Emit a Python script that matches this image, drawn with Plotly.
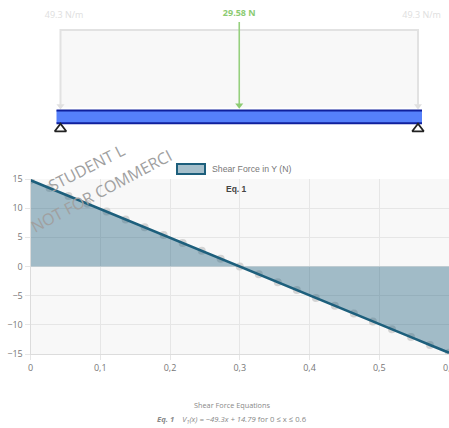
import plotly.graph_objects as go

# ---- data ----
shear_x = [0, 0.0273, 0.0545, 0.0818, 0.1091, 0.1364, 0.1636, 0.1909, 0.2182, 0.2455, 0.2727, 0.3,
           0.3273, 0.3545, 0.3818, 0.4091, 0.4364, 0.4636, 0.4909, 0.5182, 0.5455, 0.5727, 0.6]
shear_y = [14.79, 13.45, 12.10, 10.76, 9.41, 8.07, 6.72, 5.38, 4.03, 2.69, 1.34, 0,
           -1.34, -2.69, -4.03, -5.38, -6.72, -8.07, -9.41, -10.76, -12.10, -13.45, -14.79]
y_ticks = [-15, -10, -5, 0, 5, 10, 15]
x_ticks = [0, 0.1, 0.2, 0.3, 0.4, 0.5]
x_tick_labels = ["0", "0,1", "0,2", "0,3", "0,4", "0,5"]
last_x_tick = 0.6
last_x_label = "0,6"
series_name = "Shear Force in Y (N)"

span_x = [0, 0.6]
beam_x = [-0.0067, 0.6067]
load_x = [0, 0, 0.6, 0.6]
load_y = [0.03, 1, 1, 0.03]
point_load_x = [0.3]
point_load_y = [1.1, 0.04]
point_load_label = "29.58 N"
dist_load_label = "49.3 N/m"
dist_label_x = [0.006, 0.606]

LINE = "#1d5f7c"
W, H = 449, 428

def py(p):  # pixel from top -> paper fraction
    return 1 - p / H

fig = go.Figure()

# ---- shear chart ----
fig.add_trace(go.Scatter(x=shear_x, y=shear_y, mode="markers", showlegend=False, hoverinfo="skip",
                         marker=dict(size=8, color="rgba(200,200,200,0.75)")))
fig.add_trace(go.Scatter(x=shear_x, y=shear_y, mode="lines", fill="tozeroy", name=series_name,
                         fillcolor="rgba(29,95,124,0.40)", line=dict(color=LINE, width=2.6),
                         showlegend=False, hoverinfo="x+y"))

# ---- beam diagram on its own axes ----
def t2(**kw):
    fig.add_trace(go.Scatter(xaxis="x2", yaxis="y2", showlegend=False, hoverinfo="skip", **kw))

t2(x=load_x, y=load_y, mode="lines", fill="toself", fillcolor="#f8f8f8",
   line=dict(color="#e2e2e2", width=2))
for xv in span_x:
    t2(x=[xv], y=[0.05], mode="markers",
       marker=dict(symbol="triangle-down", size=7, color="#e0e0e0"))
t2(x=point_load_x * 2, y=point_load_y, mode="lines", line=dict(color="#96d07e", width=1.6))
t2(x=point_load_x, y=[0.06], mode="markers",
   marker=dict(symbol="triangle-down", size=7, color="#8ccb72"))
t2(x=beam_x, y=[-0.085, -0.085], mode="lines", line=dict(color="#5580fb", width=13))
t2(x=beam_x, y=[-0.005, -0.005], mode="lines", line=dict(color="#0f1f9c", width=2))
t2(x=beam_x, y=[-0.165, -0.165], mode="lines", line=dict(color="#0f1f9c", width=2))
t2(x=span_x, y=[-0.235, -0.235], mode="markers",
   marker=dict(symbol="triangle-up", size=10, color="white", line=dict(color="#222", width=1.8)))
t2(x=point_load_x, y=[1.2], mode="text", text=["<b>" + point_load_label + "</b>"],
   textfont=dict(family="Open Sans", size=9, color="#8ccb72"))
t2(x=dist_label_x, y=[1.175, 1.175], mode="text", text=[dist_load_label] * 2,
   textfont=dict(family="Open Sans", size=9, color="#dedede"), cliponaxis=False)

ann = [
    dict(text="STUDENT L", x=86, y=168, textangle=-27),
    dict(text="NOT FOR COMMERCI", x=101, y=191, textangle=-28),
]
annotations = [dict(xref="paper", yref="paper", x=a["x"] / W, y=py(a["y"]), text=a["text"],
                    textangle=a["textangle"], showarrow=False, xanchor="center", yanchor="middle",
                    font=dict(family="Open Sans", size=16, color="#a0a0a0")) for a in ann]
annotations += [
    dict(xref="paper", yref="paper", x=210 / W, y=py(169), text=series_name, showarrow=False,
         xanchor="left", yanchor="middle", font=dict(family="Liberation Sans", size=8.7, color="#777")),
    dict(xref="paper", yref="paper", x=237 / W, y=py(189), text="<b>Eq. 1</b>", showarrow=False,
         xanchor="center", yanchor="middle", font=dict(family="Liberation Sans", size=8.5, color="#444")),
    dict(xref="paper", yref="paper", x=232 / W, y=py(405), text="Shear Force Equations", showarrow=False,
         xanchor="center", yanchor="middle", font=dict(family="Open Sans", size=7.3, color="#888")),
    dict(xref="paper", yref="paper", x=232 / W, y=py(420),
         text="<b><i>Eq. 1</i></b>    <i>V<sub>1</sub>(x) = −49.3x + 14.79</i> for 0 ≤ x ≤ 0.6",
         showarrow=False, xanchor="center", yanchor="middle",
         font=dict(family="Open Sans", size=7.7, color="#888")),
    dict(xref="x", yref="paper", x=last_x_tick, y=py(367), text=last_x_label, showarrow=False,
         xanchor="center", yanchor="middle", font=dict(family="Open Sans", size=9, color="#777")),
]

shapes = [
    dict(type="rect", xref="x domain", yref="y domain", x0=0, x1=1, y0=0, y1=1, layer="below",
         fillcolor="#f8f8f8", line=dict(width=0)),
    dict(type="rect", xref="paper", yref="paper", x0=177 / W, x1=205 / W, y0=py(174), y1=py(164),
         fillcolor="rgba(29,95,124,0.40)", line=dict(color=LINE, width=2)),
]

AX = dict(gridcolor="#e6e6e6", gridwidth=1, linecolor="#dcdcdc", linewidth=1, showline=True,
          ticks="outside", ticklen=5, tickcolor="#e6e6e6", zeroline=False, automargin=False,
          tickfont=dict(family="Open Sans", size=9, color="#777"))

fig.update_layout(
    width=W, height=H, autosize=False, margin=dict(l=0, r=0, t=0, b=0),
    paper_bgcolor="white", plot_bgcolor="white", separators=",.", showlegend=False,
    xaxis=dict(domain=[30.5 / W, 1], range=[0, 0.6], tickvals=x_ticks, ticktext=x_tick_labels, anchor="y", **AX),
    yaxis=dict(domain=[py(354), py(179)], range=[-15, 15], tickvals=y_ticks, anchor="x", **AX),
    xaxis2=dict(domain=[0, 1], range=[-0.10154, 0.65203], visible=False, anchor="y2"),
    yaxis2=dict(domain=[py(145), 1], range=[-0.4375, 1.375], visible=False, anchor="x2"),
    annotations=annotations, shapes=shapes,
)

fig.write_html("out.html", config={"displayModeBar": False},
               post_script="document.body.style.margin='0';")
